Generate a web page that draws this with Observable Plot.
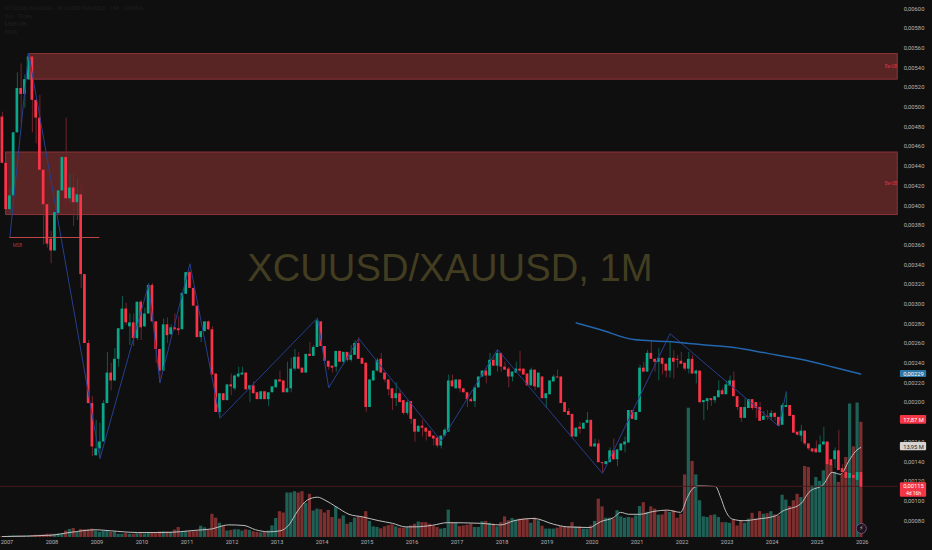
<!DOCTYPE html>
<html><head><meta charset="utf-8">
<script src="https://cdn.jsdelivr.net/npm/d3@7"></script>
<script src="https://cdn.jsdelivr.net/npm/@observablehq/plot@0.6"></script>
<style>html,body{margin:0;padding:0;background:#0f0f0f;overflow:hidden}svg{display:block}</style>
</head><body>
<script>
// Monthly candles from Dec 2006; prices in units of 0.00001, index 0 = Dec 2006
const opens=[490,443,396,410,474,519,513,528,551,507,489,436,401,366,354,392,415,449,407,418,403,411,330,260,199,146,153,160,199,230,222,244,274,295,277,281,265,302,277,290,319,282,254,232,279,269,276,275,274,310,332,316,298,266,272,282,274,229,190,209,202,218,214,226,228,230,213,217,210,203,211,203,210,215,223,222,210,214,234,246,235,230,249,247,256,282,257,242,237,236,252,241,251,243,248,260,245,240,195,222,232,244,230,223,214,204,209,202,189,201,183,170,176,174,171,166,164,156,166,170,222,214,223,214,210,203,201,215,226,232,227,243,237,250,236,234,226,230,234,234,229,217,233,215,226,204,208,221,226,226,200,191,188,165,175,173,179,182,155,158,139,137,139,151,142,151,157,159,192,182,190,235,231,250,244,241,245,239,232,245,244,242,240,234,244,229,232,200,201,204,202,205,212,208,217,222,206,195,184,194,203,200,195,182,186,185,189,185,177,195,197,187,170,166,171,158,153,153,149,157,160,142,142,151,133,129,123,126,121,129];
const closes=[443,396,410,474,519,513,528,551,507,489,436,401,361,354,393,415,449,407,418,403,411,330,260,199,155,153,160,199,230,222,244,275,295,281,281,265,302,276,290,319,282,254,232,279,268,276,274,273,311,332,316,298,266,272,282,274,228,190,209,202,218,216,227,229,230,213,217,209,203,211,203,210,216,223,221,210,214,234,246,234,230,249,247,256,283,257,242,236,235,252,241,251,243,248,260,244,239,195,223,232,243,230,223,213,204,209,200,189,200,183,170,176,174,170,165,163,156,166,172,222,216,223,214,210,203,201,215,226,232,227,243,237,250,236,233,226,231,234,232,228,217,233,216,230,204,209,222,226,225,199,190,187,165,174,173,179,182,155,158,139,138,140,151,142,152,158,160,192,183,190,235,231,250,244,241,245,239,232,245,241,243,239,234,244,229,232,200,202,204,202,206,212,208,218,222,206,195,184,195,203,194,194,181,186,185,189,185,176,197,197,186,169,167,171,158,153,150,149,157,160,137,136,151,131,129,123,128,123,129,114];
const highs=[495,443,418,474,535,544,533,554,551,507,512,436,401,374,393,415,449,489,432,432,427,423,330,263,206,182,179,202,251,240,255,275,308,301,290,290,302,304,296,321,321,282,254,285,286,279,290,287,311,332,334,316,298,272,282,283,277,229,209,209,218,229,228,236,236,230,217,221,210,211,211,210,216,223,232,222,241,245,254,251,235,249,261,258,285,282,257,242,237,252,252,251,251,258,263,266,245,240,223,232,245,250,230,223,214,220,212,202,202,201,183,176,182,174,171,166,164,166,174,228,228,223,223,214,210,205,215,226,232,235,250,248,253,250,241,236,231,241,252,234,229,235,233,230,226,209,222,228,233,226,200,194,188,174,180,179,190,182,163,162,139,140,154,163,152,158,165,192,192,190,238,241,253,263,244,255,245,239,261,253,248,251,240,251,248,233,232,202,204,204,206,222,214,222,227,231,206,195,204,203,203,200,200,191,192,192,190,185,199,210,197,187,170,177,171,158,153,161,166,175,160,142,154,172,137,131,131,131,131,131];
const lows=[443,396,390,410,474,483,499,527,474,463,436,360,357,341,354,392,415,400,402,379,385,316,260,199,145,146,144,160,199,212,222,236,274,278,258,257,263,263,276,290,282,240,220,232,260,268,273,268,274,310,316,298,266,261,272,273,228,190,185,202,202,207,212,225,228,213,200,209,203,203,203,196,210,215,221,210,210,210,232,234,230,230,247,247,256,257,242,233,230,231,241,238,241,241,248,244,239,190,195,222,231,230,220,207,192,196,200,187,187,178,160,170,165,161,165,156,154,153,166,170,216,214,210,210,195,200,195,215,226,219,227,237,231,231,233,215,221,230,230,228,217,217,212,215,204,194,208,221,225,199,190,187,165,165,168,173,179,155,155,139,129,137,139,141,135,151,149,159,183,182,190,231,231,244,231,222,228,225,225,224,235,239,232,229,229,219,199,182,192,196,199,205,208,208,216,206,192,180,184,194,192,184,181,182,182,182,181,176,177,195,186,169,166,160,156,151,149,149,149,157,137,136,133,131,127,121,119,117,117,112];
// Volume in millions of ticks
const volumes=[.15,.15,.2,.25,.25,.25,.25,.25,.3,.35,.35,.4,.5,.5,.5,.55,.6,1,1.25,1.4,.8,1.25,1.2,1.2,1.3,1,.8,1,1,.8,.8,.5,.5,.6,.5,.5,.6,.6,.55,.7,.7,.6,.85,.9,.85,.8,1.15,1.55,.9,.9,.9,.9,1,1.75,1.5,1.1,3.6,3,2.2,1.8,1,1.1,1.2,1.2,1,1.2,1.1,.9,.8,.7,.8,1,1.8,2.95,4,3.8,6.9,6.9,7.1,6.9,7.1,5.3,6.7,4.1,4.4,4.3,3.8,4.2,3.1,4.75,2.85,3.35,2.05,2.3,3,3.2,3.2,4,2.5,1.65,1.55,1.35,1.65,1.85,1.95,1.65,1.45,1.45,1.55,1.8,2.05,2.4,2.3,2.3,2.05,1.8,1.55,1.3,1.4,4.25,2.2,2.2,1.7,1.8,1.9,2.05,1.55,1.55,2.45,2.5,2.2,2.05,1.65,2.3,3.2,2.6,2.95,2.7,2.85,2.85,2.85,2.2,3,2.6,1.75,1.3,1.3,1.3,1.45,1.7,1.65,1.65,2.3,1.65,1.65,1.3,1.3,1.8,2.5,5.95,4.75,3,3,2.85,4.15,3.2,3,3.1,3,3.35,4.8,5.4,3.9,4.75,4.4,3.45,3.5,4.05,3.9,4.15,3,3.6,9.7,20.05,11.8,9.7,5.7,3.2,3.1,3.4,3.5,3.1,2.3,2.3,2.2,2.7,1.8,2.6,2.2,2.85,3.75,2.85,4,3.6,3.7,4,3.5,3.35,6.55,5.8,4.8,5.7,6.7,6.2,11,10.85,8,9.3,8.7,10.35,14.7,11.35,10.1,8.55,9.8,12.4,20.7,14.05,20.85,17.87];
const volumeTealMonths=[186,216,217];
// Volume moving average: month index, millions
const volMaMonths=[0,13,18,25,29,36,43,52,56,59,60.4,64.4,67.5,71,74,76.4,78.7,81.3,84,86,89,92.4,96,100.4,104,107.5,110,114.7,118.6,127.5,132.8,136.4,141.7,147,150.6,156.8,158,159.5,163,164.8,167,170,173.7,177.2,180.8,182.6,183.9,185.7,190.1,191.5,192.8,194.6,197.7,201.2,206.1,207.9,212.8,215,219,221.2,223.4,225.7,227.5,228.8];
const volMaValues=[.15,.36,.78,1.2,1.03,.78,.78,1.14,1.34,1.86,1.96,1.86,1.2,.88,1.03,1.96,4.1,5.8,6.25,5.8,4.75,3.6,3.2,2.6,2.2,1.65,1.65,1.9,2.3,2.2,1.95,2.6,2.95,2.05,1.65,1.55,1.95,2.45,3.1,3.9,3.6,3.6,4.05,4.25,3.9,6.2,7.5,8,7.9,6.2,4.15,2.85,2.6,2.85,3.35,4.05,5.2,7,8.3,10.1,9.8,11.9,13.4,13.95];
// Zigzag pivots and EMA
const zigzagMonths=[2,7,26,39,42,50,58,84,87,95,117,132,160,178,207,209];
const zigzagPrices=[368,555,143,320,220,341,184,286,215,265,161,254,128,270,176,211];
const emaMonths=[153,159.5,168.3,177.3,186.1,195,204,212.8,221.6,228.8];
const emaPrices=[281,274,264,262,259,256,250,244,236,229];
// Order blocks
const zoneStarts=[7,1];
const zoneTops=[554,454];
const zoneBottoms=[528,390.5];
const zoneLabels=["Be-OB","Be-OB"];
const zoneLabelPrices=[541,422];
const zoneEnd=238.7;
const msbPrice=367.7, msbStart=2, msbEnd=26;
const lastPrice=115;
const yearTicks=d3.range(1,230,12);
const yearLabels=d3.range(2007,2027).map(String);
// 180 sits fully behind the 17,87 M label in the reference
const priceTicks=d3.range(80,601,20).filter(p=>p!==180);
const headerLines=["XCUUSD/XAUUSD · XCUUSD/XAUUSD · 1M · OANDA","Vol · Ticks","MSB-OB","EMA"];

const U=1e-5, bottom=63, volK=6.55;
const candles=opens.map((o,i)=>({i,o:o*U,c:closes[i]*U,
  h:Math.max(highs[i],o,closes[i])*U,l:Math.min(lows[i],o,closes[i])*U,
  up:closes[i]>o,v:volumes[i],
  vUp:closes[i]>o||volumeTealMonths.includes(i)}));
const volY=v=>(bottom+v*volK)*U;
const zones=zoneStarts.map((s,i)=>({s,t:zoneTops[i]*U,b:zoneBottoms[i]*U,lab:zoneLabels[i],p:zoneLabelPrices[i]*U}));
const zig=zigzagMonths.map((m,i)=>({m,p:zigzagPrices[i]*U}));
const ema=emaMonths.map((m,i)=>({m,p:emaPrices[i]*U}));
const ma=volMaMonths.map((m,i)=>({m,p:volY(volMaValues[i])}));

const UP="#0aa88a",DN="#fb3349",UPW="#0c5f50",DNW="#74232e";
const pill=(x1,x2,top,bot,fill)=>Plot.rect([0],{x1,x2,y1:top*U,y2:bot*U,fill,rx:1});
const lab=(t,x,p,fill,opt={})=>Plot.text([t],{x,y:p*U,fill,fontSize:5.8,text:d=>d,textAnchor:"middle",...opt});

const chart=Plot.plot({
  width:932,height:550,marginLeft:0,marginRight:34.3,marginTop:0,marginBottom:13,
  style:{background:"#0f0f0f",fontFamily:"Roboto, sans-serif"},
  x:{domain:[-0.5,238.82],axis:null},
  y:{domain:[bottom*U,608.4*U],axis:null},
  marks:[
    Plot.text(["XCUUSD/XAUUSD, 1M"],{x:119.3,y:336*U,text:d=>d,fill:"#423d20",fontSize:38.2,fontFamily:"Liberation Sans, sans-serif"}),
    Plot.rect(zones,{x1:"s",x2:()=>zoneEnd,y1:"b",y2:"t",fill:"#592424",stroke:"#8f3338",strokeWidth:1}),
    Plot.text(zones,{x:()=>236.9,y:"p",text:"lab",fill:"#e0323f",fontSize:4.5}),
    Plot.rect(candles,{x1:d=>d.i-.43,x2:d=>d.i+.43,y1:()=>bottom*U,y2:d=>volY(d.v),fill:d=>d.vUp?"#1f6056":"#7d2f2f"}),
    Plot.line(ma,{x:"m",y:"p",stroke:"#bdbdbd",strokeWidth:1,curve:"monotone-x"}),
    Plot.ruleY([lastPrice*U],{x1:-0.5,x2:238.82,stroke:"#45191e",strokeWidth:1}),
    Plot.ruleX(candles,{x:"i",y1:"l",y2:"h",stroke:d=>d.up?UPW:DNW,strokeWidth:1}),
    Plot.rect(candles,{x1:d=>d.i-.36,x2:d=>d.i+.36,y1:d=>Math.min(d.o,d.c),y2:d=>Math.max(d.o,d.c),fill:d=>d.up?UP:DN}),
    Plot.line(zig,{x:"m",y:"p",stroke:"#263f8e",strokeWidth:1}),
    Plot.line(ema,{x:"m",y:"p",stroke:"#2366ad",strokeWidth:1.5,curve:"monotone-x"}),
    Plot.ruleY([msbPrice*U],{x1:msbStart,x2:msbEnd,stroke:"#c04848",strokeWidth:1}),
    Plot.text(["MSB"],{x:4,y:359.5*U,text:d=>d,fill:"#a33a3a",fontSize:4.5}),
    Plot.axisX({ticks:yearTicks,tickFormat:i=>yearLabels[(i-1)/12],tickSize:0,tickPadding:3,fill:"#b2b5bc",fontSize:5.6,anchor:"bottom",dx:.8}),
    Plot.axisY({ticks:priceTicks.map(p=>p*U),tickFormat:d=>d.toFixed(5).replace(".",","),tickSize:0,tickPadding:5.5,fill:"#b2b5bc",fontSize:5.8,anchor:"right"}),
    pill(239.4,246.4,232.5,225.5,"#2c76a6"),
    lab("0,00229",242.9,229,"#ffffff"),
    pill(239.4,246.4,187,178,"#f23645"),
    lab("17,87 M",242.9,182.5,"#ffffff"),
    pill(239.4,246.4,159.5,151,"#d6d3d3"),
    lab("13,95 M",242.9,155.2,"#2a2a2a"),
    pill(239.4,246.4,118.5,104,"#f23645"),
    lab("0,00115",242.9,115,"#ffffff"),
    lab("4d 16h",242.9,107.8,"#ffffff",{fontSize:5}),
    Plot.dot([0],{x:229,y:(608.4-1.0156*528)*U,r:5,fill:"#1b141b",stroke:"#7a4f78",strokeWidth:1}),
    Plot.text(["⚡"],{x:229,y:(608.4-1.0156*528)*U,text:d=>d,fill:"#c9a0c9",fontSize:6,fontFamily:"DejaVu Sans"}),
    Plot.text(headerLines,{text:d=>d,fill:"#1f1f1f",fontSize:6,textAnchor:"start",
      y:(d,i)=>(608.4-1.0156*(8+i*8))*U,x:()=>0.57})
  ]
});
document.body.appendChild(chart);
</script>
</body></html>
